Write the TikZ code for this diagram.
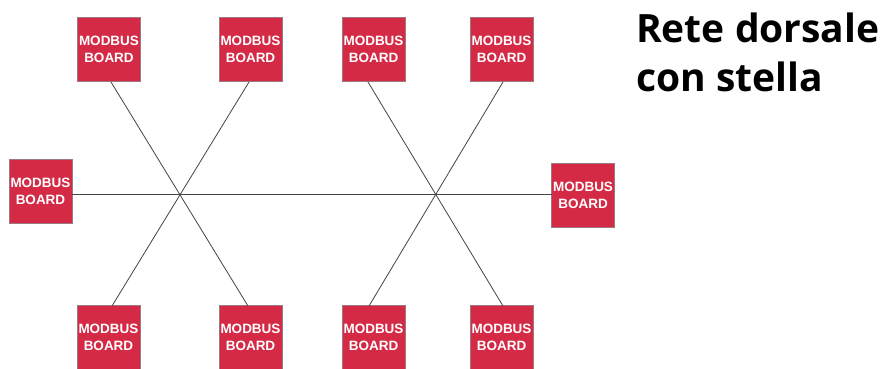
\documentclass[tikz,border=0pt]{standalone}
\usepackage{fontspec}
\setmainfont{Liberation Sans}
\newfontfamily\titlefont{Open Sans}
\definecolor{boardred}{HTML}{D42A45}
\definecolor{boardedge}{HTML}{9A7A80}
\definecolor{wire}{HTML}{444444}
\begin{document}
\begin{tikzpicture}[x=1pt,y=-1pt,
  board/.style={draw=boardedge,line width=0.8pt,fill=boardred,text=white,
    minimum width=63pt,minimum height=64pt,inner sep=0pt,align=center,
    font=\fontsize{13.5}{17}\selectfont\bfseries},
  link/.style={draw=wire,line width=0.8pt}]
\useasboundingbox (0,0) rectangle (886,369);
\fill[white] (0,0) rectangle (886,369);
\node[board] (t1) at (109,49.5) {MODBUS\\BOARD};
\node[board] (t2) at (250.5,49.5) {MODBUS\\BOARD};
\node[board] (t3) at (373.5,49.5) {MODBUS\\BOARD};
\node[board] (t4) at (501.5,49.5) {MODBUS\\BOARD};
\node[board] (l) at (40.5,191.5) {MODBUS\\BOARD};
\node[board] (r) at (583,195) {MODBUS\\BOARD};
\node[board] (b1) at (108.5,337.5) {MODBUS\\BOARD};
\node[board] (b2) at (250.5,337.5) {MODBUS\\BOARD};
\node[board] (b3) at (373.5,337.5) {MODBUS\\BOARD};
\node[board] (b4) at (501.5,337.5) {MODBUS\\BOARD};
\coordinate (t1a) at (111,82);
\coordinate (t2a) at (249,82);
\coordinate (t3a) at (368,82);
\coordinate (t4a) at (503,82);
\coordinate (b1a) at (112,306);
\coordinate (b2a) at (248,306);
\coordinate (b3a) at (369,306);
\coordinate (b4a) at (503,306);
\coordinate (la) at (72,194);
\coordinate (ra) at (551.5,194);
\draw[link] (la) -- (ra);
\draw[link] (t1a) -- (b2a);
\draw[link] (t2a) -- (b1a);
\draw[link] (t3a) -- (b4a);
\draw[link] (t4a) -- (b3a);
\node[anchor=base west,inner sep=0pt,align=left,font=\titlefont\fontsize{39}{49}\selectfont\bfseries] (title) at (636,92) {Rete dorsale\\con stella};
\end{tikzpicture}
\end{document}
